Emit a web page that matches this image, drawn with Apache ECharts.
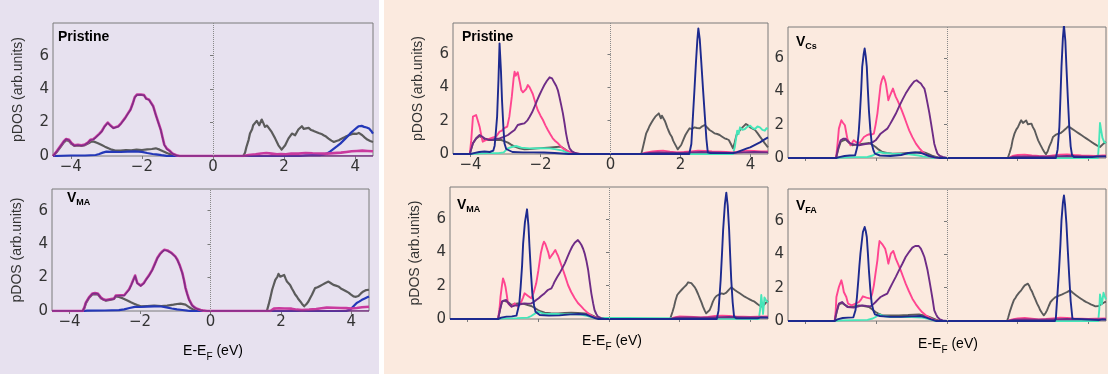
<!DOCTYPE html>
<html>
<head>
<meta charset="utf-8">
<script src="https://cdn.jsdelivr.net/npm/echarts@6/dist/echarts.min.js"></script>
<style>
html, body { margin: 0; padding: 0; background: #ffffff; }
#chart { width: 1108px; height: 374px; }
</style>
</head>
<body>
<div id="chart"></div>
<script>
// ---- axis ticks ----
const energyTicks = [-4, -2, 0, 2, 4];
const dosTicks = [0, 2, 4, 6];

// ---- panel titles ----
const titlePristine = 'Pristine';
const vacancyMA = 'MA';
const vacancyCs = 'Cs';
const vacancyFA = 'FA';

// ---- left group, Pristine: [energy (eV), pDOS] ----
const lpGray = [[-4.5,0],[-4.48,0],[-4.4,0.22],[-4.3,0.5],[-4.2,0.8],[-4.13,0.95],[-4.05,0.9],[-3.98,0.72],[-3.9,0.6],[-3.8,0.63],[-3.7,0.6],[-3.6,0.65],[-3.5,0.76],[-3.42,0.86],[-3.35,0.86],[-3.25,0.78],[-3.13,0.66],[-3.04,0.56],[-2.94,0.46],[-2.85,0.38],[-2.75,0.32],[-2.6,0.32],[-2.45,0.35],[-2.3,0.34],[-2.15,0.38],[-2.0,0.36],[-1.85,0.4],[-1.72,0.42],[-1.61,0.46],[-1.5,0.38],[-1.42,0.3],[-1.37,0.26],[-1.25,0.14],[-1.13,0.06],[-1.0,0.01],[-0.9,0],[0.85,0],[0.9,0.2],[0.94,0.54],[1.0,0.95],[1.04,1.34],[1.1,1.6],[1.13,1.84],[1.18,1.95],[1.23,2.1],[1.3,1.84],[1.37,2.18],[1.42,1.95],[1.46,1.74],[1.52,1.82],[1.56,1.78],[1.65,1.44],[1.75,1.04],[1.84,0.64],[1.93,0.38],[1.98,0.45],[2.03,0.64],[2.12,1.04],[2.22,1.34],[2.31,1.24],[2.4,1.58],[2.5,1.78],[2.55,1.62],[2.59,1.64],[2.69,1.68],[2.76,1.55],[2.83,1.5],[2.9,1.44],[2.97,1.38],[3.05,1.32],[3.11,1.24],[3.18,1.16],[3.25,1.04],[3.33,0.92],[3.4,0.84],[3.47,0.9],[3.54,0.94],[3.6,1.02],[3.68,1.1],[3.75,1.18],[3.82,1.24],[3.9,1.3],[3.96,1.34],[4.03,1.32],[4.1,1.38],[4.2,1.24],[4.27,1.1],[4.34,0.98],[4.42,0.9],[4.5,0.84]];
const lpBlue = [[-4.5,0],[-4.45,0.01],[-4.0,0.03],[-3.6,0.03],[-3.3,0.06],[-3.2,0.12],[-3.1,0.2],[-3.0,0.26],[-2.8,0.25],[-2.6,0.24],[-2.4,0.26],[-2.2,0.28],[-2.0,0.25],[-1.85,0.18],[-1.7,0.12],[-1.6,0.1],[-1.45,0.05],[-1.3,0.01],[-1.2,0],[2.4,0],[2.6,0.04],[2.8,0.06],[3.0,0.05],[3.1,0.08],[3.2,0.14],[3.3,0.28],[3.4,0.44],[3.5,0.6],[3.58,0.74],[3.68,0.95],[3.77,1.14],[3.86,1.35],[3.96,1.54],[4.03,1.66],[4.1,1.78],[4.18,1.8],[4.25,1.74],[4.32,1.7],[4.39,1.64],[4.45,1.5],[4.5,1.34]];
const lpMagenta = [[-4.5,0],[-4.48,0],[-4.4,0.27],[-4.3,0.57],[-4.2,0.87],[-4.13,1.02],[-4.05,0.97],[-3.98,0.77],[-3.9,0.64],[-3.8,0.67],[-3.7,0.64],[-3.61,0.68],[-3.52,0.8],[-3.45,0.97],[-3.37,1.0],[-3.3,1.12],[-3.2,1.32],[-3.13,1.48],[-3.05,1.77],[-2.96,2.0],[-2.88,1.82],[-2.8,1.68],[-2.72,1.74],[-2.66,1.78],[-2.58,1.97],[-2.47,2.28],[-2.4,2.52],[-2.32,2.78],[-2.26,3.12],[-2.2,3.52],[-2.14,3.67],[-2.09,3.74],[-2.03,3.68],[-1.98,3.7],[-1.94,3.64],[-1.88,3.44],[-1.8,3.37],[-1.75,3.3],[-1.68,2.97],[-1.61,2.48],[-1.54,2.02],[-1.47,1.58],[-1.42,1.12],[-1.37,0.68],[-1.3,0.44],[-1.22,0.31],[-1.13,0.13],[-1.03,0.05],[-0.94,0],[0.85,0],[1.0,0.06],[1.2,0.1],[1.35,0.15],[1.5,0.18],[1.65,0.14],[1.8,0.1],[1.9,0.12],[2.05,0.1],[2.2,0.15],[2.4,0.14],[2.6,0.18],[2.8,0.16],[3.0,0.15],[3.2,0.14],[3.4,0.17],[3.6,0.2],[3.75,0.24],[3.9,0.28],[4.05,0.3],[4.2,0.32],[4.35,0.3],[4.5,0.28]];
const lpPurple = [[-4.5,0],[-4.48,0],[-4.4,0.25],[-4.3,0.55],[-4.2,0.85],[-4.13,1.0],[-4.05,0.95],[-3.98,0.75],[-3.9,0.62],[-3.8,0.65],[-3.7,0.62],[-3.61,0.66],[-3.52,0.78],[-3.45,0.95],[-3.37,0.98],[-3.3,1.1],[-3.2,1.3],[-3.13,1.46],[-3.05,1.75],[-2.96,1.98],[-2.88,1.8],[-2.8,1.66],[-2.72,1.72],[-2.66,1.76],[-2.58,1.95],[-2.47,2.26],[-2.4,2.5],[-2.32,2.76],[-2.26,3.1],[-2.2,3.5],[-2.14,3.65],[-2.09,3.72],[-2.03,3.66],[-1.98,3.68],[-1.94,3.62],[-1.88,3.42],[-1.8,3.35],[-1.75,3.28],[-1.68,2.95],[-1.61,2.46],[-1.54,2.0],[-1.47,1.56],[-1.42,1.1],[-1.37,0.66],[-1.3,0.42],[-1.22,0.3],[-1.13,0.12],[-1.03,0.04],[-0.94,0],[4.5,0]];

// ---- left group, V_MA ----
const lvGray = [[-4.5,0],[-3.63,0],[-3.58,0.18],[-3.54,0.45],[-3.45,0.78],[-3.35,1.0],[-3.2,1.0],[-3.11,0.76],[-2.97,0.62],[-2.86,0.66],[-2.74,0.72],[-2.69,0.87],[-2.6,0.84],[-2.5,0.77],[-2.36,0.63],[-2.26,0.52],[-2.17,0.44],[-2.08,0.36],[-1.98,0.28],[-1.8,0.3],[-1.6,0.32],[-1.4,0.3],[-1.23,0.32],[-1.05,0.38],[-0.95,0.42],[-0.85,0.44],[-0.71,0.38],[-0.64,0.28],[-0.57,0.18],[-0.5,0.1],[-0.42,0.04],[-0.3,0],[1.6,0],[1.65,0.38],[1.7,0.8],[1.75,1.27],[1.8,1.6],[1.84,1.86],[1.9,2.05],[1.93,2.22],[1.98,2.05],[2.03,1.96],[2.09,2.16],[2.13,1.95],[2.17,1.76],[2.22,1.7],[2.26,1.56],[2.31,1.35],[2.36,1.17],[2.4,1.0],[2.45,0.87],[2.5,0.7],[2.55,0.57],[2.6,0.42],[2.66,0.28],[2.72,0.4],[2.78,0.57],[2.83,0.78],[2.88,0.97],[2.93,1.2],[2.97,1.37],[3.04,1.42],[3.11,1.5],[3.18,1.58],[3.25,1.66],[3.3,1.72],[3.35,1.76],[3.42,1.66],[3.49,1.56],[3.56,1.52],[3.63,1.47],[3.7,1.35],[3.77,1.27],[3.85,1.18],[3.92,1.1],[3.99,0.98],[4.06,0.87],[4.13,0.85],[4.2,0.9],[4.27,1.05],[4.34,1.17],[4.42,1.25],[4.5,1.27]];
const lvBlue = [[-4.5,0],[-3.63,0],[-3.5,0.02],[-3.0,0.03],[-2.6,0.05],[-2.45,0.1],[-2.3,0.18],[-2.15,0.25],[-2.0,0.24],[-1.8,0.26],[-1.6,0.28],[-1.4,0.27],[-1.25,0.22],[-1.1,0.15],[-0.95,0.1],[-0.8,0.06],[-0.65,0.02],[-0.55,0],[3.85,0],[3.92,0.05],[3.98,0.1],[4.06,0.28],[4.1,0.35],[4.15,0.48],[4.22,0.56],[4.3,0.67],[4.38,0.75],[4.45,0.82],[4.5,0.87]];
const lvMagenta = [[-4.5,0],[-3.63,0],[-3.58,0.22],[-3.54,0.5],[-3.45,0.82],[-3.35,1.05],[-3.28,1.07],[-3.2,1.05],[-3.11,0.8],[-3.04,0.7],[-2.97,0.66],[-2.86,0.7],[-2.74,0.74],[-2.69,0.92],[-2.64,1.0],[-2.55,0.94],[-2.45,0.94],[-2.38,1.12],[-2.31,1.3],[-2.25,1.57],[-2.2,1.82],[-2.14,2.12],[-2.08,1.68],[-1.98,1.52],[-1.89,1.68],[-1.82,1.92],[-1.75,2.12],[-1.65,2.48],[-1.58,2.82],[-1.51,3.17],[-1.44,3.4],[-1.37,3.56],[-1.31,3.66],[-1.27,3.72],[-1.22,3.62],[-1.18,3.56],[-1.12,3.5],[-1.08,3.42],[-1.0,3.27],[-0.94,3.07],[-0.87,2.72],[-0.8,2.28],[-0.75,1.82],[-0.71,1.39],[-0.66,1.02],[-0.61,0.69],[-0.52,0.34],[-0.45,0.21],[-0.38,0.13],[-0.28,0.06],[-0.19,0.02],[-0.1,0],[1.7,0],[1.8,0.14],[1.95,0.16],[2.1,0.15],[2.3,0.14],[2.45,0.08],[2.6,0.05],[2.8,0.08],[3.0,0.12],[3.15,0.16],[3.3,0.2],[3.5,0.19],[3.7,0.18],[3.85,0.17],[4.0,0.15],[4.15,0.18],[4.3,0.22],[4.5,0.25]];
const lvPurple = [[-4.5,0],[-3.63,0],[-3.58,0.2],[-3.54,0.48],[-3.45,0.8],[-3.35,1.03],[-3.28,1.05],[-3.2,1.03],[-3.11,0.78],[-3.04,0.68],[-2.97,0.64],[-2.86,0.68],[-2.74,0.72],[-2.69,0.9],[-2.64,0.98],[-2.55,0.92],[-2.45,0.92],[-2.38,1.1],[-2.31,1.28],[-2.25,1.55],[-2.2,1.8],[-2.14,2.1],[-2.08,1.66],[-1.98,1.5],[-1.89,1.66],[-1.82,1.9],[-1.75,2.1],[-1.65,2.46],[-1.58,2.8],[-1.51,3.15],[-1.44,3.38],[-1.37,3.54],[-1.31,3.64],[-1.27,3.7],[-1.22,3.6],[-1.18,3.54],[-1.12,3.48],[-1.08,3.4],[-1.0,3.25],[-0.94,3.05],[-0.87,2.7],[-0.8,2.26],[-0.75,1.8],[-0.71,1.37],[-0.66,1.0],[-0.61,0.67],[-0.52,0.32],[-0.45,0.2],[-0.38,0.12],[-0.28,0.05],[-0.19,0.02],[-0.1,0],[4.5,0]];

// ---- right group, Pristine ----
const rpGray = [[-4.5,0],[-4.02,0],[-3.98,0.3],[-3.93,0.64],[-3.84,0.92],[-3.74,1.08],[-3.65,0.95],[-3.55,0.84],[-3.45,0.85],[-3.36,0.84],[-3.25,0.85],[-3.12,0.84],[-3.02,0.76],[-2.93,0.68],[-2.84,0.56],[-2.74,0.44],[-2.6,0.34],[-2.46,0.28],[-2.3,0.3],[-2.08,0.34],[-1.9,0.37],[-1.7,0.4],[-1.55,0.42],[-1.41,0.44],[-1.34,0.34],[-1.27,0.24],[-1.2,0.12],[-1.12,0.04],[-1.0,0],[0.88,0],[0.92,0.34],[0.97,0.8],[1.02,1.24],[1.08,1.5],[1.12,1.7],[1.16,1.84],[1.22,2.05],[1.28,2.24],[1.33,2.3],[1.38,2.44],[1.44,2.14],[1.47,2.3],[1.51,2.24],[1.55,2.0],[1.58,1.84],[1.62,1.6],[1.65,1.44],[1.7,1.2],[1.75,1.04],[1.79,0.8],[1.83,0.64],[1.88,0.44],[1.92,0.28],[1.97,0.4],[2.02,0.54],[2.08,0.85],[2.14,1.14],[2.2,1.35],[2.26,1.54],[2.33,1.5],[2.4,1.6],[2.47,1.56],[2.55,1.54],[2.62,1.66],[2.69,1.74],[2.76,1.6],[2.83,1.44],[2.9,1.35],[2.97,1.24],[3.05,1.2],[3.12,1.14],[3.19,1.04],[3.26,0.94],[3.32,0.9],[3.38,0.84],[3.44,0.6],[3.5,0.34],[3.55,0.7],[3.6,1.14],[3.67,1.35],[3.74,1.54],[3.8,1.66],[3.87,1.8],[3.93,1.72],[3.99,1.6],[4.06,1.52],[4.13,1.44],[4.2,1.25],[4.27,1.04],[4.34,0.85],[4.41,0.64],[4.5,0.4]];
const rpCyan = [[-4.5,0],[-4.0,0],[-3.8,0.03],[-3.5,0.05],[-3.2,0.05],[-3.05,0.1],[-2.94,0.34],[-2.82,0.42],[-2.7,0.48],[-2.55,0.38],[-2.31,0.34],[-2.0,0.35],[-1.74,0.34],[-1.55,0.28],[-1.37,0.2],[-1.27,0.12],[-1.17,0.08],[-1.05,0.02],[-0.9,0],[3.5,0],[3.55,0.4],[3.62,1.4],[3.66,1.2],[3.7,1.6],[3.77,1.45],[3.84,1.5],[3.9,1.62],[3.99,1.7],[4.06,1.55],[4.13,1.5],[4.2,1.65],[4.27,1.6],[4.34,1.45],[4.41,1.4],[4.46,1.55],[4.5,1.5]];
const rpPink = [[-4.5,0],[-4.02,0],[-3.98,0.8],[-3.93,2.24],[-3.88,2.3],[-3.84,2.34],[-3.79,2.0],[-3.74,1.64],[-3.69,1.1],[-3.65,0.74],[-3.55,0.84],[-3.43,0.94],[-3.35,1.0],[-3.27,1.04],[-3.17,1.34],[-3.1,1.4],[-3.05,1.54],[-2.95,1.64],[-2.89,2.24],[-2.82,3.44],[-2.77,4.5],[-2.74,4.94],[-2.71,4.7],[-2.68,4.64],[-2.65,4.9],[-2.63,4.94],[-2.59,4.3],[-2.55,3.84],[-2.5,3.7],[-2.46,3.64],[-2.41,3.9],[-2.36,4.14],[-2.31,4.0],[-2.27,3.94],[-2.22,3.6],[-2.17,3.24],[-2.12,2.9],[-2.08,2.64],[-2.0,2.3],[-1.93,2.04],[-1.86,1.72],[-1.79,1.44],[-1.72,1.18],[-1.65,0.94],[-1.58,0.78],[-1.5,0.64],[-1.43,0.48],[-1.36,0.34],[-1.26,0.22],[-1.17,0.14],[-1.07,0.08],[-0.98,0.04],[-0.85,0],[0.9,0],[1.0,0.08],[1.2,0.15],[1.35,0.18],[1.5,0.2],[1.7,0.14],[1.9,0.1],[2.1,0.12],[2.3,0.16],[2.5,0.2],[2.7,0.18],[2.9,0.15],[3.1,0.14],[3.3,0.12],[3.5,0.1],[3.7,0.15],[3.9,0.2],[4.1,0.18],[4.3,0.16],[4.5,0.15]];
const rpPurple = [[-4.5,0],[-4.02,0],[-3.98,0.3],[-3.93,0.64],[-3.84,0.95],[-3.74,1.14],[-3.67,1.05],[-3.6,0.94],[-3.5,0.88],[-3.41,0.84],[-3.3,0.9],[-3.17,0.94],[-3.05,1.02],[-2.93,1.14],[-2.83,1.3],[-2.74,1.44],[-2.65,1.74],[-2.55,1.8],[-2.46,1.84],[-2.38,2.0],[-2.31,2.24],[-2.24,2.5],[-2.17,2.84],[-2.1,3.2],[-2.03,3.54],[-1.96,3.85],[-1.89,4.14],[-1.82,4.38],[-1.74,4.6],[-1.7,4.62],[-1.67,4.54],[-1.61,4.3],[-1.55,4.08],[-1.5,3.8],[-1.46,3.44],[-1.41,2.95],[-1.36,2.44],[-1.31,1.8],[-1.27,1.24],[-1.22,0.7],[-1.17,0.34],[-1.1,0.16],[-1.03,0.08],[-0.89,0],[0.9,0],[1.1,0.06],[1.4,0.1],[1.7,0.08],[2.0,0.06],[2.3,0.1],[2.6,0.12],[2.9,0.1],[3.2,0.08],[3.5,0.07],[3.8,0.1],[4.1,0.12],[4.5,0.1]];
const rpNavy = [[-4.5,0],[-4.0,0],[-3.9,0.05],[-3.75,0.12],[-3.6,0.15],[-3.45,0.12],[-3.35,0.2],[-3.31,0.5],[-3.28,1.2],[-3.24,2.24],[-3.2,4.5],[-3.17,6.64],[-3.13,5.0],[-3.1,3.24],[-3.06,1.6],[-3.03,0.64],[-2.98,0.3],[-2.93,0.2],[-2.8,0.12],[-2.5,0.1],[-2.2,0.1],[-1.9,0.09],[-1.6,0.06],[-1.4,0.03],[-1.2,0],[2.25,0],[2.31,0.6],[2.36,2.44],[2.4,3.9],[2.44,5.44],[2.48,6.8],[2.51,7.54],[2.55,6.9],[2.59,5.64],[2.64,4.0],[2.69,2.44],[2.74,0.9],[2.78,0.1],[2.85,0.05],[3.2,0.05],[3.5,0.06],[3.6,0.1],[3.75,0.22],[3.9,0.34],[3.99,0.4],[4.13,0.55],[4.27,0.7],[4.38,0.85],[4.5,1.0]];

// ---- right group, V_Cs ----
const rcGray = [[-4.5,0],[-3.14,0],[-3.08,0.5],[-3.01,0.96],[-2.94,1.05],[-2.87,1.1],[-2.78,0.92],[-2.68,0.76],[-2.58,0.8],[-2.49,0.82],[-2.35,0.86],[-2.21,0.9],[-2.12,0.8],[-2.02,0.66],[-1.93,0.5],[-1.83,0.36],[-1.7,0.3],[-1.55,0.26],[-1.3,0.28],[-1.07,0.3],[-0.88,0.33],[-0.69,0.36],[-0.6,0.3],[-0.5,0.22],[-0.4,0.12],[-0.31,0.06],[-0.2,0],[1.72,0],[1.77,0.3],[1.82,0.66],[1.86,1.1],[1.91,1.46],[1.96,1.7],[2.01,1.86],[2.05,2.05],[2.1,2.26],[2.15,2.1],[2.2,2.16],[2.24,2.25],[2.29,2.02],[2.34,2.1],[2.39,2.06],[2.43,1.85],[2.48,1.66],[2.53,1.35],[2.58,1.06],[2.64,0.8],[2.7,0.56],[2.75,0.38],[2.8,0.22],[2.85,0.4],[2.89,0.66],[2.95,0.95],[3.0,1.26],[3.07,1.38],[3.15,1.46],[3.22,1.5],[3.29,1.62],[3.36,1.75],[3.43,1.9],[3.48,1.82],[3.53,1.76],[3.6,1.66],[3.67,1.56],[3.74,1.46],[3.81,1.36],[3.88,1.26],[3.95,1.16],[4.02,1.06],[4.09,0.96],[4.16,0.86],[4.24,0.76],[4.33,0.66],[4.38,0.75],[4.43,0.86],[4.5,0.96]];
const rcCyan = [[-4.5,0],[-3.14,0],[-3.0,0.03],[-2.6,0.05],[-2.25,0.06],[-2.1,0.15],[-2.0,0.28],[-1.92,0.36],[-1.8,0.3],[-1.55,0.26],[-1.3,0.24],[-1.07,0.22],[-0.8,0.15],[-0.69,0.1],[-0.5,0.05],[-0.4,0],[4.27,0],[4.3,0.8],[4.33,2.1],[4.36,1.7],[4.4,1.2],[4.45,0.95],[4.5,0.9]];
const rcPink = [[-4.5,0],[-3.14,0],[-3.1,0.8],[-3.06,1.76],[-2.99,2.26],[-2.94,2.1],[-2.89,1.96],[-2.85,1.5],[-2.82,1.16],[-2.73,0.76],[-2.64,1.06],[-2.57,0.95],[-2.49,0.86],[-2.42,1.05],[-2.35,1.26],[-2.28,1.35],[-2.21,1.42],[-2.14,1.4],[-2.07,1.46],[-2.02,2.0],[-1.97,2.66],[-1.92,3.6],[-1.88,4.36],[-1.84,4.7],[-1.8,4.9],[-1.76,4.7],[-1.73,4.46],[-1.69,3.9],[-1.66,3.46],[-1.62,3.7],[-1.59,3.86],[-1.53,4.16],[-1.49,3.9],[-1.45,3.66],[-1.4,3.45],[-1.36,3.26],[-1.28,2.85],[-1.21,2.46],[-1.14,2.05],[-1.07,1.66],[-0.98,1.25],[-0.88,0.86],[-0.78,0.58],[-0.69,0.36],[-0.6,0.2],[-0.5,0.1],[-0.4,0.05],[-0.31,0.02],[-0.2,0],[1.75,0],[1.85,0.12],[2.0,0.18],[2.2,0.2],[2.4,0.15],[2.6,0.12],[2.8,0.1],[3.0,0.15],[3.2,0.2],[3.4,0.22],[3.6,0.18],[3.8,0.15],[4.0,0.14],[4.2,0.12],[4.4,0.15],[4.5,0.15]];
const rcPurple = [[-4.5,0],[-3.14,0],[-3.08,0.6],[-3.01,1.06],[-2.94,1.15],[-2.87,1.16],[-2.8,1.0],[-2.73,0.86],[-2.6,0.8],[-2.49,0.76],[-2.35,0.82],[-2.21,0.86],[-2.1,0.95],[-2.02,1.06],[-1.95,1.25],[-1.88,1.46],[-1.78,1.62],[-1.69,1.76],[-1.62,2.0],[-1.55,2.26],[-1.45,2.65],[-1.36,3.06],[-1.26,3.5],[-1.17,3.86],[-1.07,4.2],[-0.98,4.46],[-0.92,4.6],[-0.86,4.66],[-0.8,4.55],[-0.74,4.46],[-0.69,4.3],[-0.64,4.16],[-0.6,3.8],[-0.55,3.26],[-0.5,2.7],[-0.45,2.06],[-0.4,1.4],[-0.36,0.86],[-0.31,0.5],[-0.27,0.26],[-0.2,0.12],[-0.12,0.06],[0,0],[1.75,0],[1.9,0.08],[2.2,0.1],[2.6,0.08],[3.0,0.1],[3.4,0.12],[3.8,0.1],[4.2,0.08],[4.5,0.1]];
const rcNavy = [[-4.5,0],[-3.14,0],[-3.05,0.05],[-2.9,0.12],[-2.75,0.15],[-2.6,0.16],[-2.54,0.66],[-2.5,1.5],[-2.47,2.46],[-2.43,4.0],[-2.4,5.46],[-2.36,6.2],[-2.33,6.56],[-2.3,6.1],[-2.27,5.46],[-2.24,4.1],[-2.21,2.86],[-2.17,1.7],[-2.13,0.86],[-2.08,0.45],[-2.04,0.26],[-1.9,0.15],[-1.6,0.12],[-1.3,0.18],[-1.1,0.3],[-0.9,0.34],[-0.7,0.28],[-0.5,0.12],[-0.35,0.04],[-0.2,0],[3.08,0],[3.13,0.5],[3.18,1.86],[3.21,3.6],[3.24,5.46],[3.28,7.2],[3.31,7.95],[3.35,7.0],[3.38,5.46],[3.42,3.6],[3.46,1.86],[3.5,0.7],[3.54,0.16],[3.6,0.05],[4.1,0.05],[4.25,0.1],[4.3,0.14],[4.4,0.1],[4.5,0.1]];

// ---- right group, V_MA ----
const rmGray = [[-4.5,0],[-3.14,0],[-3.08,0.6],[-3.03,1.04],[-2.97,1.1],[-2.93,1.18],[-2.85,1.0],[-2.76,0.84],[-2.67,0.9],[-2.58,0.94],[-2.48,0.92],[-2.39,0.9],[-2.3,0.84],[-2.2,0.78],[-2.1,0.66],[-2.01,0.54],[-1.92,0.45],[-1.82,0.38],[-1.65,0.35],[-1.44,0.34],[-1.25,0.36],[-1.07,0.38],[-0.88,0.36],[-0.69,0.34],[-0.6,0.3],[-0.5,0.24],[-0.4,0.14],[-0.31,0.06],[-0.2,0],[1.73,0],[1.76,0.2],[1.8,0.45],[1.84,0.74],[1.88,1.1],[1.93,1.44],[1.99,1.6],[2.05,1.74],[2.12,1.9],[2.19,2.04],[2.24,2.2],[2.28,2.3],[2.33,2.15],[2.38,2.04],[2.43,1.9],[2.47,1.74],[2.52,1.5],[2.57,1.24],[2.62,0.98],[2.66,0.74],[2.71,0.5],[2.75,0.34],[2.8,0.42],[2.85,0.54],[2.9,0.8],[2.94,1.04],[2.99,1.25],[3.04,1.38],[3.11,1.46],[3.18,1.54],[3.25,1.5],[3.32,1.58],[3.39,1.75],[3.46,1.9],[3.51,1.8],[3.56,1.74],[3.63,1.64],[3.7,1.54],[3.77,1.44],[3.84,1.34],[3.91,1.26],[3.98,1.18],[4.05,1.1],[4.12,1.04],[4.2,0.9],[4.27,0.8],[4.33,0.74],[4.4,0.88],[4.47,1.04],[4.5,1.08]];
const rmCyan = [[-4.5,0],[-3.14,0],[-3.0,0.04],[-2.6,0.05],[-2.3,0.08],[-2.2,0.18],[-2.15,0.3],[-2.01,0.44],[-1.9,0.35],[-1.82,0.3],[-1.5,0.3],[-1.2,0.28],[-1.07,0.3],[-0.8,0.26],[-0.6,0.18],[-0.45,0.08],[-0.41,0],[4.24,0],[4.28,0.6],[4.31,1.44],[4.34,0.8],[4.36,0.3],[4.4,1.3],[4.45,1.1],[4.5,1.0]];
const rmPink = [[-4.5,0],[-3.14,0],[-3.1,0.6],[-3.07,1.34],[-3.03,2.0],[-3.0,2.44],[-2.96,2.2],[-2.93,1.94],[-2.89,1.4],[-2.86,0.94],[-2.76,0.74],[-2.67,0.94],[-2.58,0.74],[-2.48,1.04],[-2.43,1.3],[-2.39,1.54],[-2.34,1.45],[-2.29,1.38],[-2.2,1.24],[-2.13,1.6],[-2.06,2.14],[-2.0,2.9],[-1.93,3.94],[-1.88,4.4],[-1.84,4.64],[-1.8,4.5],[-1.77,4.44],[-1.72,4.0],[-1.68,3.64],[-1.63,3.8],[-1.58,3.94],[-1.52,4.14],[-1.48,3.95],[-1.44,3.78],[-1.37,3.35],[-1.3,2.94],[-1.23,2.5],[-1.16,2.04],[-1.07,1.62],[-0.97,1.24],[-0.88,0.96],[-0.78,0.74],[-0.71,0.58],[-0.64,0.44],[-0.55,0.28],[-0.45,0.14],[-0.35,0.06],[-0.26,0.02],[-0.15,0],[1.75,0],[1.85,0.1],[2.0,0.15],[2.2,0.14],[2.4,0.12],[2.6,0.1],[2.8,0.12],[3.0,0.18],[3.2,0.2],[3.4,0.18],[3.6,0.15],[3.8,0.14],[4.0,0.12],[4.2,0.14],[4.5,0.15]];
const rmPurple = [[-4.5,0],[-3.14,0],[-3.08,0.6],[-3.03,1.04],[-2.97,1.1],[-2.91,1.14],[-2.83,0.9],[-2.76,0.74],[-2.67,0.8],[-2.58,0.84],[-2.48,0.9],[-2.39,0.94],[-2.3,0.92],[-2.2,0.94],[-2.13,1.02],[-2.06,1.14],[-1.99,1.25],[-1.92,1.38],[-1.82,1.55],[-1.73,1.74],[-1.68,1.76],[-1.63,1.84],[-1.58,2.05],[-1.54,2.24],[-1.47,2.5],[-1.4,2.74],[-1.32,3.05],[-1.25,3.34],[-1.18,3.7],[-1.11,4.04],[-1.04,4.35],[-0.97,4.58],[-0.92,4.68],[-0.88,4.74],[-0.83,4.6],[-0.78,4.44],[-0.73,4.2],[-0.69,3.94],[-0.64,3.5],[-0.59,2.94],[-0.55,2.3],[-0.5,1.54],[-0.45,0.95],[-0.41,0.54],[-0.36,0.3],[-0.31,0.14],[-0.22,0.05],[-0.12,0],[1.75,0],[1.9,0.08],[2.2,0.1],[2.6,0.08],[3.0,0.1],[3.4,0.12],[3.8,0.1],[4.2,0.1],[4.5,0.1]];
const rmNavy = [[-4.5,0],[-3.14,0],[-3.05,0.08],[-2.9,0.14],[-2.75,0.16],[-2.62,0.2],[-2.58,0.24],[-2.54,0.9],[-2.5,1.94],[-2.46,3.2],[-2.43,4.54],[-2.38,5.8],[-2.32,6.58],[-2.28,5.6],[-2.25,4.34],[-2.21,2.8],[-2.17,1.54],[-2.12,0.8],[-2.08,0.44],[-1.96,0.24],[-1.7,0.2],[-1.4,0.22],[-1.1,0.28],[-0.85,0.3],[-0.65,0.26],[-0.5,0.14],[-0.4,0.06],[-0.3,0],[3.05,0],[3.1,0.5],[3.16,2.34],[3.2,4.0],[3.23,5.34],[3.28,6.9],[3.32,7.58],[3.36,6.8],[3.4,5.34],[3.43,3.8],[3.46,2.34],[3.5,1.0],[3.54,0.14],[3.6,0.04],[4.2,0.04],[4.3,0.1],[4.5,0.08]];

// ---- right group, V_FA ----
const rfGray = [[-4.5,0],[-3.18,0],[-3.12,0.55],[-3.06,1.0],[-2.97,1.08],[-2.88,0.95],[-2.78,0.84],[-2.64,0.88],[-2.49,0.94],[-2.35,0.9],[-2.21,0.84],[-2.12,0.7],[-2.02,0.54],[-1.92,0.42],[-1.83,0.34],[-1.6,0.33],[-1.36,0.34],[-1.1,0.36],[-0.79,0.4],[-0.65,0.34],[-0.5,0.24],[-0.4,0.16],[-0.31,0.08],[-0.2,0],[1.7,0],[1.73,0.2],[1.79,0.64],[1.84,0.95],[1.89,1.24],[1.94,1.4],[1.98,1.54],[2.04,1.7],[2.1,1.84],[2.15,2.0],[2.2,2.14],[2.25,2.05],[2.29,2.24],[2.33,2.1],[2.36,1.94],[2.41,1.75],[2.45,1.54],[2.5,1.3],[2.55,1.04],[2.6,0.84],[2.64,0.64],[2.69,0.48],[2.74,0.34],[2.79,0.48],[2.83,0.64],[2.88,0.9],[2.93,1.14],[2.99,1.28],[3.05,1.4],[3.12,1.48],[3.19,1.54],[3.26,1.6],[3.34,1.68],[3.41,1.75],[3.48,1.84],[3.53,1.76],[3.57,1.68],[3.65,1.55],[3.72,1.44],[3.79,1.34],[3.86,1.24],[3.93,1.15],[4.0,1.08],[4.07,1.0],[4.14,0.94],[4.2,0.88],[4.24,0.84],[4.29,0.9],[4.33,0.94],[4.4,1.05],[4.47,1.14],[4.5,1.15]];
const rfCyan = [[-4.5,0],[-3.18,0],[-3.0,0.04],[-2.6,0.05],[-2.25,0.07],[-2.1,0.15],[-2.02,0.24],[-1.92,0.4],[-1.8,0.3],[-1.6,0.24],[-1.3,0.24],[-1.0,0.24],[-0.7,0.2],[-0.5,0.12],[-0.4,0.05],[-0.31,0],[4.28,0],[4.31,0.7],[4.33,1.6],[4.36,1.3],[4.38,1.0],[4.41,1.4],[4.43,1.7],[4.46,1.5],[4.5,1.3]];
const rfPink = [[-4.5,0],[-3.18,0],[-3.15,0.6],[-3.13,1.44],[-3.06,2.04],[-2.99,2.44],[-2.95,2.1],[-2.92,1.74],[-2.85,1.44],[-2.8,1.04],[-2.7,0.94],[-2.59,1.04],[-2.49,1.14],[-2.43,1.3],[-2.38,1.48],[-2.28,1.4],[-2.16,1.34],[-2.11,1.7],[-2.07,2.14],[-2.02,2.9],[-1.97,3.64],[-1.94,4.3],[-1.91,4.8],[-1.87,4.7],[-1.83,4.6],[-1.79,4.5],[-1.75,4.34],[-1.7,3.9],[-1.66,3.44],[-1.62,3.8],[-1.59,4.04],[-1.52,4.2],[-1.48,3.95],[-1.45,3.74],[-1.38,3.4],[-1.31,3.04],[-1.24,2.64],[-1.17,2.24],[-1.08,1.8],[-0.98,1.34],[-0.88,1.0],[-0.79,0.74],[-0.7,0.52],[-0.6,0.34],[-0.5,0.2],[-0.41,0.1],[-0.3,0.03],[-0.22,0],[1.72,0],[1.85,0.1],[2.0,0.15],[2.2,0.18],[2.4,0.14],[2.6,0.1],[2.8,0.12],[3.0,0.16],[3.2,0.2],[3.4,0.18],[3.6,0.15],[3.8,0.14],[4.0,0.12],[4.2,0.14],[4.5,0.15]];
const rfPurple = [[-4.5,0],[-3.18,0],[-3.12,0.6],[-3.06,1.04],[-2.97,1.14],[-2.9,1.0],[-2.82,0.84],[-2.64,0.8],[-2.5,0.88],[-2.4,0.94],[-2.28,0.9],[-2.16,0.88],[-2.09,1.0],[-2.02,1.14],[-1.95,1.3],[-1.88,1.44],[-1.78,1.55],[-1.69,1.64],[-1.62,1.95],[-1.55,2.24],[-1.45,2.65],[-1.36,3.04],[-1.26,3.45],[-1.17,3.84],[-1.07,4.15],[-0.98,4.4],[-0.9,4.5],[-0.85,4.6],[-0.8,4.5],[-0.74,4.34],[-0.69,4.1],[-0.64,3.84],[-0.6,3.5],[-0.55,3.04],[-0.5,2.45],[-0.45,1.84],[-0.4,1.2],[-0.36,0.64],[-0.31,0.4],[-0.27,0.24],[-0.2,0.1],[-0.12,0.04],[0,0],[1.72,0],[1.9,0.08],[2.2,0.1],[2.6,0.08],[3.0,0.1],[3.4,0.12],[3.8,0.1],[4.2,0.1],[4.5,0.1]];
const rfNavy = [[-4.5,0],[-3.18,0],[-3.1,0.1],[-2.95,0.18],[-2.8,0.2],[-2.65,0.22],[-2.59,0.64],[-2.55,1.4],[-2.51,2.44],[-2.48,3.3],[-2.45,4.04],[-2.41,4.8],[-2.38,5.34],[-2.33,5.64],[-2.3,5.4],[-2.27,5.04],[-2.24,4.1],[-2.21,3.04],[-2.17,1.9],[-2.13,1.04],[-2.08,0.6],[-2.04,0.4],[-1.9,0.3],[-1.6,0.25],[-1.3,0.25],[-1.0,0.28],[-0.75,0.3],[-0.6,0.22],[-0.45,0.1],[-0.3,0],[3.05,0],[3.08,0.14],[3.12,1.4],[3.17,3.04],[3.21,4.6],[3.24,6.04],[3.28,7.1],[3.31,7.54],[3.34,7.0],[3.38,5.84],[3.42,4.2],[3.46,2.64],[3.5,1.2],[3.55,0.14],[3.6,0.04],[4.3,0.05],[4.4,0.1],[4.5,0.08]];

// ---- styling ----
const C = {
  gray: '#5b5b5b', lpurple: '#7a2f86', lmagenta: '#c93a9e', lblue: '#2438b8',
  navy: '#1d2a8f', pink: '#ff4590', purple: '#6e2c86', cyan: '#45e6b9',
  frame: '#7a7a7a', text: '#333333'
};
const LAV = '#e7e1ef', PEACH = '#fbeadf';
const TICK_FONT = 'DejaVu Sans';
const TITLE_FONT = 'Liberation Sans';
const RW = 1.9;

const panels = [
  { box: [53, 23, 320, 133], ymax: 7.95, xLabels: true, yName: true,
    lines: [[lpGray, C.gray, 2.2], [lpBlue, C.lblue, 2.2], [lpMagenta, C.lmagenta, 2.6], [lpPurple, C.lpurple, 1.4]] },
  { box: [52, 189, 317, 122], ymax: 7.3, xLabels: true, yName: true,
    lines: [[lvGray, C.gray, 2.2], [lvBlue, C.lblue, 2.2], [lvMagenta, C.lmagenta, 2.6], [lvPurple, C.lpurple, 1.4]] },
  { box: [453, 23, 315, 131], ymax: 7.86, xLabels: true, yName: true,
    lines: [[rpGray, C.gray, RW], [rpCyan, C.cyan, RW], [rpPink, C.pink, RW], [rpPurple, C.purple, RW], [rpNavy, C.navy, RW]] },
  { box: [788, 27, 318, 131], ymax: 7.85, xLabels: false, yName: false,
    lines: [[rcGray, C.gray, RW], [rcCyan, C.cyan, RW], [rcPink, C.pink, RW], [rcPurple, C.purple, RW], [rcNavy, C.navy, RW]] },
  { box: [450, 187, 318, 132], ymax: 7.92, xLabels: false, yName: true,
    lines: [[rmGray, C.gray, RW], [rmCyan, C.cyan, RW], [rmPink, C.pink, RW], [rmPurple, C.purple, RW], [rmNavy, C.navy, RW]] },
  { box: [788, 189, 318, 132], ymax: 7.92, xLabels: false, yName: false,
    lines: [[rfGray, C.gray, RW], [rfCyan, C.cyan, RW], [rfPink, C.pink, RW], [rfPurple, C.purple, RW], [rfNavy, C.navy, RW]] }
];

const minusFmt = v => (v < 0 ? '\u2212' + Math.abs(v) : String(v));

const grids = [], xAxes = [], yAxes = [], series = [];
panels.forEach((p, i) => {
  const [l, t, w, h] = p.box;
  grids.push({ left: l, top: t, width: w, height: h, show: true,
    borderColor: C.frame, borderWidth: 1, backgroundColor: 'transparent' });
  xAxes.push({ type: 'value', gridIndex: i, min: -4.5, max: 4.5,
    axisLine: { show: false }, splitLine: { show: false },
    axisTick: { show: true, length: 3, lineStyle: { color: C.frame }, customValues: energyTicks },
    axisLabel: { show: p.xLabels, customValues: energyTicks, formatter: minusFmt, margin: 4,
      fontFamily: TICK_FONT, fontSize: 15, color: C.text } });
  yAxes.push({ type: 'value', gridIndex: i, min: 0, max: p.ymax,
    axisLine: { show: false }, splitLine: { show: false },
    axisTick: { show: true, length: 3, lineStyle: { color: C.frame }, customValues: dosTicks },
    axisLabel: { customValues: dosTicks, margin: 4, fontFamily: TICK_FONT, fontSize: 15, color: C.text },
    name: p.yName ? 'pDOS (arb.units)' : '', nameLocation: 'middle', nameRotate: 90, nameGap: 28,
    nameTextStyle: { fontFamily: TITLE_FONT, fontSize: 14, color: C.text } });
  p.lines.forEach(([data, color, width], k) => {
    const s = { type: 'line', xAxisIndex: i, yAxisIndex: i, data, color,
      showSymbol: false, symbol: 'none', animation: false, silent: true,
      lineStyle: { color, width, join: 'round' } };
    if (k === 0) {
      s.markLine = { silent: true, symbol: 'none', animation: false, label: { show: false },
        lineStyle: { type: 'dotted', color: '#8a8a8a', width: 1 }, data: [{ xAxis: 0 }] };
    }
    series.push(s);
  });
});

const tagRich = {
  b: { fontFamily: TITLE_FONT, fontWeight: 'bold', fontSize: 14, color: '#111' },
  s: { fontFamily: TITLE_FONT, fontWeight: 'bold', fontSize: 9, color: '#111', padding: [10, 0, 0, 0] }
};
const xRich = {
  a: { fontFamily: TITLE_FONT, fontSize: 14, color: C.text },
  s: { fontFamily: TITLE_FONT, fontSize: 10, color: C.text, padding: [12, 0, 0, 0] }
};
const txt = (x, y, text, rich, align) => ({ type: 'text', x, y, z: 50,
  style: { text, rich, align: align || 'left', verticalAlign: 'middle' } });

const graphic = [
  { type: 'rect', shape: { x: 0, y: 0, width: 379, height: 374 }, style: { fill: LAV }, z: -100 },
  { type: 'rect', shape: { x: 384, y: 0, width: 724, height: 374 }, style: { fill: PEACH }, z: -100 },
  txt(58, 37, '{b|' + titlePristine + '}', tagRich),
  txt(67, 198, '{b|V}{s|' + vacancyMA + '}', tagRich),
  txt(462, 37, '{b|' + titlePristine + '}', tagRich),
  txt(796, 42, '{b|V}{s|' + vacancyCs + '}', tagRich),
  txt(457, 205, '{b|V}{s|' + vacancyMA + '}', tagRich),
  txt(796, 206, '{b|V}{s|' + vacancyFA + '}', tagRich),
  txt(213, 351, '{a|E-E}{s|F}{a| (eV)}', xRich, 'center'),
  txt(612, 341, '{a|E-E}{s|F}{a| (eV)}', xRich, 'center'),
  txt(948, 344, '{a|E-E}{s|F}{a| (eV)}', xRich, 'center')
];

const chart = echarts.init(document.getElementById('chart'), null, { renderer: 'canvas' });
chart.setOption({
  backgroundColor: '#ffffff',
  animation: false,
  grid: grids, xAxis: xAxes, yAxis: yAxes, series, graphic
});
</script>
</body>
</html>
